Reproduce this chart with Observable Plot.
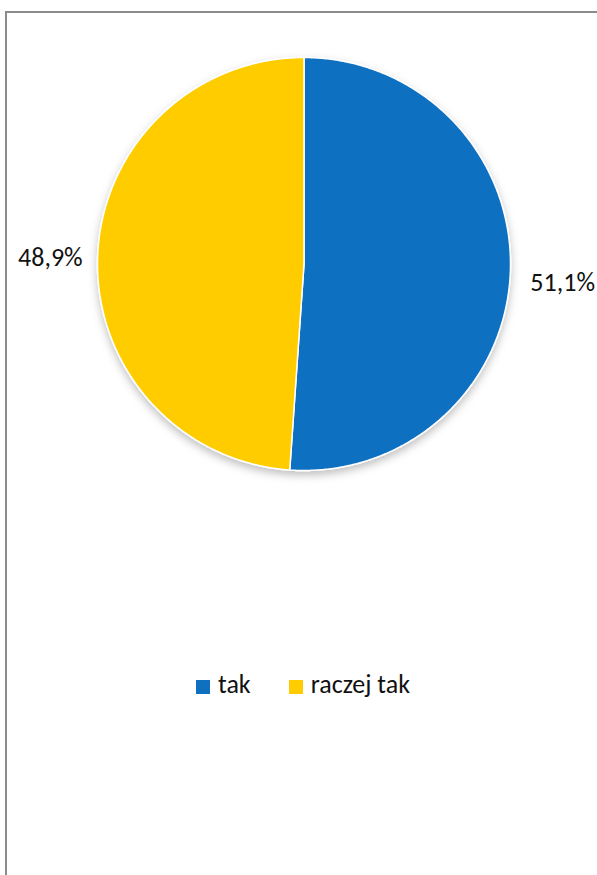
<!DOCTYPE html>
<html>
<head>
<meta charset="utf-8">
<script src="https://cdn.jsdelivr.net/npm/d3@7"></script>
<script src="https://cdn.jsdelivr.net/npm/@observablehq/plot@0.6"></script>
<style>
  html, body { margin: 0; padding: 0; background: #fff; overflow: hidden; }
  body { width: 597px; height: 875px; position: relative; font-family: Carlito, Calibri, "Open Sans", sans-serif; }
  #frame { position: absolute; left: 5px; top: 11px; width: 640px; height: 920px; border: 2px solid #8c8c8c; box-sizing: border-box; }
  #chart { position: absolute; left: 0; top: 0; }
  #legend { position: absolute; left: 196px; top: 667px; display: flex; align-items: center; font-size: 26px; line-height: 34px; color: #111; }
  .item { display: flex; align-items: center; }
  .sw { width: 14px; height: 14px; margin-right: 8px; margin-top: 5px; }
</style>
</head>
<body>
<div id="frame"></div>
<div id="chart"></div>
<div id="legend"></div>
<script>
const categories = ["tak", "raczej tak"];
const values = [51.1, 48.9];
const labels = ["51,1%", "48,9%"];
const colors = ["#0F70C0", "#FFCC00"];

const arcs = d3.pie().sort(null).value(d => d)(values);

// slice outlines (centre -> arc -> centre) in unit-circle space
const slicePts = [];
arcs.forEach((a, i) => {
  slicePts.push({cat: categories[i], x: 0, y: 0});
  const n = Math.max(2, Math.ceil((a.endAngle - a.startAngle) / (Math.PI / 360)));
  for (let k = 0; k <= n; k++) {
    const t = a.startAngle + (a.endAngle - a.startAngle) * k / n;
    slicePts.push({cat: categories[i], x: Math.sin(t), y: Math.cos(t)});
  }
  slicePts.push({cat: categories[i], x: 0, y: 0});
});

const labelPts = arcs.map((a, i) => {
  const m = (a.startAngle + a.endAngle) / 2;
  return {label: labels[i], x: 1.2 * Math.sin(m), y: 1.2 * Math.cos(m), i};
});

const plot = Plot.plot({
  width: 597,
  height: 640,
  margin: 0,
  x: {domain: [-1, 1], range: [97, 510], axis: null},
  y: {domain: [-1, 1], range: [470, 57], axis: null},
  color: {domain: categories, range: colors},
  style: {fontFamily: "Carlito, Calibri, 'Open Sans', sans-serif", background: "transparent"},
  marks: [
    Plot.line(slicePts, {x: "x", y: "y", z: "cat", fill: "cat", stroke: "white", strokeWidth: 1.5, curve: "linear-closed"}),
    Plot.text(labelPts.filter(d => d.i === 0), {x: "x", y: "y", text: "label", fontSize: 26, fill: "#111", dx: 11, dy: 10}),
    Plot.text(labelPts.filter(d => d.i === 1), {x: "x", y: "y", text: "label", fontSize: 26, fill: "#111", dx: -6, dy: 2})
  ]
});

// soft shadow under the pie
const ns = "http://www.w3.org/2000/svg";
const defs = document.createElementNS(ns, "defs");
defs.innerHTML = '<filter id="shadow" x="-20%" y="-20%" width="140%" height="140%"><feDropShadow dx="0" dy="4" stdDeviation="4" flood-color="#000" flood-opacity="0.25"/></filter>';
plot.insertBefore(defs, plot.firstChild);
const lg = plot.querySelector('g[aria-label="line"]');
if (lg) lg.setAttribute("filter", "url(#shadow)");

document.getElementById("chart").appendChild(plot);

const legend = document.getElementById("legend");
categories.forEach((c, i) => {
  const item = document.createElement("div");
  item.className = "item";
  item.style.marginRight = i === 0 ? "38px" : "0";
  const sw = document.createElement("div");
  sw.className = "sw";
  sw.style.background = colors[i];
  const t = document.createElement("span");
  t.textContent = c;
  item.appendChild(sw);
  item.appendChild(t);
  legend.appendChild(item);
});
</script>
</body>
</html>
